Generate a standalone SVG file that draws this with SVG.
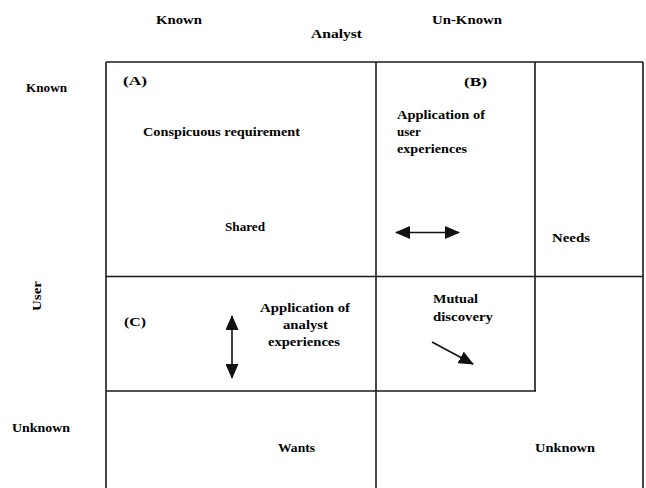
<svg xmlns="http://www.w3.org/2000/svg" width="646" height="488" viewBox="0 0 646 488">
  <style>
    .grid { stroke: #1a1a1a; stroke-width: 1.6; fill: none; }
    .lbl { font-family: "Liberation Serif", "Times New Roman", serif; font-size: 13px; font-weight: bold; fill: #000; }
    .arrow { stroke: #111; stroke-width: 1.6; fill: none; }
  </style>
  <defs>
    <marker id="head" viewBox="0 0 15 13" refX="14" refY="6.5" markerWidth="15" markerHeight="13" markerUnits="userSpaceOnUse" orient="auto-start-reverse">
      <path d="M0,0 L15,6.5 L0,13 z" fill="#111"/>
    </marker>
  </defs>

  <rect width="646" height="488" fill="#fff"/>

  <!-- axis labels -->
  <g id="axis-analyst">
    <text class="lbl" x="156" y="24" textLength="46" lengthAdjust="spacingAndGlyphs">Known</text>
    <text class="lbl" x="311" y="38" textLength="51" lengthAdjust="spacingAndGlyphs">Analyst</text>
    <text class="lbl" x="432" y="24" textLength="70" lengthAdjust="spacingAndGlyphs">Un-Known</text>
  </g>
  <g id="axis-user">
    <text class="lbl" x="26" y="92" textLength="41" lengthAdjust="spacingAndGlyphs">Known</text>
    <text class="lbl" transform="translate(41,311) rotate(-90)" textLength="30" lengthAdjust="spacingAndGlyphs">User</text>
    <text class="lbl" x="12" y="432" textLength="58" lengthAdjust="spacingAndGlyphs">Unknown</text>
  </g>

  <!-- grid lines -->
  <g id="grid">
    <path class="grid" d="M106,62 H643 M106,62 V488 M643,62 V488 M376,62 V488 M535,62 V391 M106,276.5 H643 M106,391 H536"/>
  </g>

  <!-- quadrant A -->
  <g id="quad-a">
    <text class="lbl" x="123" y="85" textLength="24" lengthAdjust="spacingAndGlyphs">(A)</text>
    <text class="lbl" x="143" y="136" textLength="157" lengthAdjust="spacingAndGlyphs">Conspicuous requirement</text>
    <text class="lbl" x="225" y="231" textLength="40" lengthAdjust="spacingAndGlyphs">Shared</text>
  </g>

  <!-- quadrant B -->
  <g id="quad-b">
    <text class="lbl" x="464" y="86" textLength="23" lengthAdjust="spacingAndGlyphs">(B)</text>
    <text class="lbl" x="397" y="119" textLength="88" lengthAdjust="spacingAndGlyphs">Application of</text>
    <text class="lbl" x="397" y="136">user</text>
    <text class="lbl" x="397" y="153" textLength="70" lengthAdjust="spacingAndGlyphs">experiences</text>
  </g>

  <g id="needs">
    <text class="lbl" x="552" y="242" textLength="38" lengthAdjust="spacingAndGlyphs">Needs</text>
  </g>

  <!-- quadrant C -->
  <g id="quad-c">
    <text class="lbl" x="124" y="326" textLength="22" lengthAdjust="spacingAndGlyphs">(C)</text>
    <text class="lbl" x="260" y="312" textLength="90" lengthAdjust="spacingAndGlyphs">Application of</text>
    <text class="lbl" x="283" y="329" textLength="45" lengthAdjust="spacingAndGlyphs">analyst</text>
    <text class="lbl" x="268" y="346" textLength="72" lengthAdjust="spacingAndGlyphs">experiences</text>
  </g>

  <g id="mutual">
    <text class="lbl" x="433" y="303" textLength="45" lengthAdjust="spacingAndGlyphs">Mutual</text>
    <text class="lbl" x="433" y="321" textLength="60" lengthAdjust="spacingAndGlyphs">discovery</text>
  </g>

  <g id="wants">
    <text class="lbl" x="278" y="452" textLength="37" lengthAdjust="spacingAndGlyphs">Wants</text>
  </g>
  <g id="unknown">
    <text class="lbl" x="535" y="452" textLength="60" lengthAdjust="spacingAndGlyphs">Unknown</text>
  </g>

  <!-- arrows -->
  <g id="connectors">
    <line class="arrow" x1="396" y1="232.5" x2="459" y2="232.5" marker-start="url(#head)" marker-end="url(#head)"/>
    <line class="arrow" x1="232" y1="316" x2="232" y2="378" marker-start="url(#head)" marker-end="url(#head)"/>
    <line class="arrow" x1="432" y1="342" x2="473" y2="364" marker-end="url(#head)"/>
  </g>
</svg>
